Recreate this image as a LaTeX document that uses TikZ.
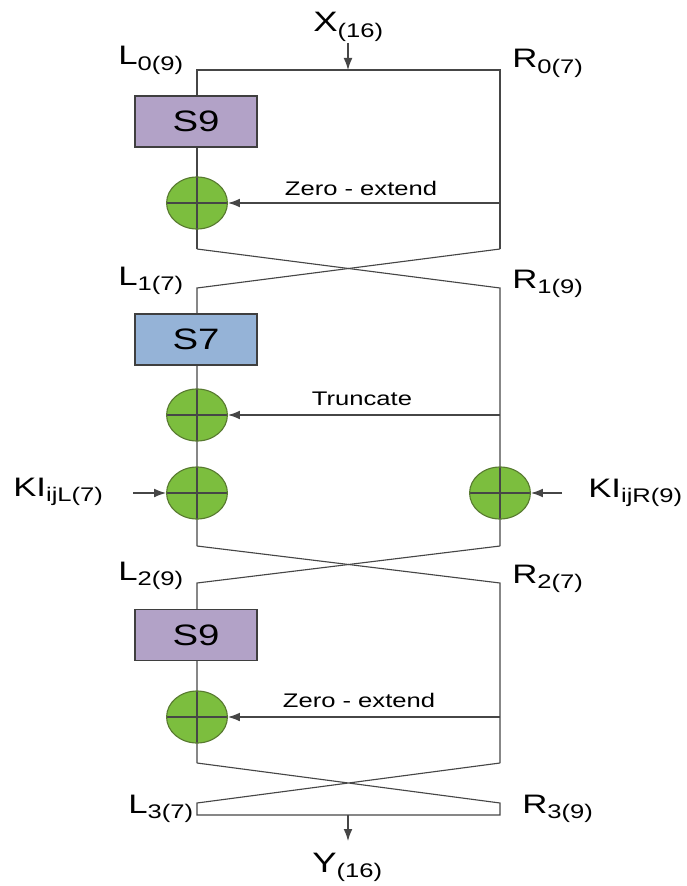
\documentclass[tikz,border=0pt]{standalone}
\usepackage{fontspec}
\setmainfont[FakeStretch=1.3]{Liberation Sans}
\usetikzlibrary{arrows.meta,shapes.geometric}

\definecolor{sboxpurple}{RGB}{178,162,199}
\definecolor{sboxblue}{RGB}{149,179,215}
\definecolor{xorgreen}{RGB}{124,190,62}
\definecolor{xoredge}{RGB}{88,122,48}
\definecolor{wire}{RGB}{70,70,70}

% big label with a lowered index
\newcommand{\sublab}[2]{#1\raisebox{-3.8pt}{\fontsize{14}{14}\selectfont #2}}

\begin{document}
\begin{tikzpicture}[
  x=0.025cm, y=-0.025cm,
  line/.style={draw=wire, line width=0.8pt},
  arr/.style={line, -{Latex[length=3mm,width=2.2mm]}},
  sbox/.style={rectangle, draw=wire!90!black, line width=1pt, minimum width=3.05cm,
    minimum height=1.28cm, font=\fontsize{21}{23}\selectfont},
  xor/.style={ellipse, draw=xoredge, fill=xorgreen, line width=0.8pt,
    minimum width=1.52cm, minimum height=1.3cm, inner sep=0pt,
    path picture={
      \draw[line] (path picture bounding box.north) -- (path picture bounding box.south);
      \draw[line] (path picture bounding box.west) -- (path picture bounding box.east);}},
  bit/.style={anchor=base west, inner sep=0pt, font=\fontsize{19}{21}\selectfont},
  io/.style={bit, font=\fontsize{20}{22}\selectfont},
  op/.style={anchor=base, inner sep=0pt, font=\fontsize{14}{16}\selectfont}
]
\useasboundingbox (0,0) rectangle (686,886);

% wire corners of the three rounds
\coordinate (L0) at (197,70);   \coordinate (R0) at (500,70);
\coordinate (L0b) at (197,249); \coordinate (R0b) at (500,249);
\coordinate (L1) at (197,288);  \coordinate (R1) at (500,288);
\coordinate (L1b) at (197,546); \coordinate (R1b) at (500,546);
\coordinate (L2) at (197,583);  \coordinate (R2) at (500,583);
\coordinate (L2b) at (197,763); \coordinate (R2b) at (500,763);
\coordinate (L3) at (197,803);  \coordinate (R3) at (500,803);
\coordinate (L3o) at (197,815); \coordinate (R3o) at (500,815);
\coordinate (xin) at (348,43);  \coordinate (xjoin) at (348,70);
\coordinate (yjoin) at (348,815); \coordinate (yout) at (348,841);
\coordinate (kil) at (133,493); \coordinate (kir) at (562,493);

% wires
\draw[line] (L0b) -- (L0) -- (R0) -- (R0b);
\draw[line] (L0b) -- (R1) -- (R1b);
\draw[line] (R0b) -- (L1) -- (L1b);
\draw[line] (L1b) -- (R2) -- (R2b);
\draw[line] (R1b) -- (L2) -- (L2b);
\draw[line] (L2b) -- (R3) -- (R3o) -- (L3o) -- (L3) -- (R2b);
\draw[arr] (xin) -- (xjoin);
\draw[arr] (yjoin) -- (yout);

% s-boxes
\node[sbox, fill=sboxpurple] (s1) at (196,121.5) {S9};
\node[sbox, fill=sboxblue] (s2) at (196,339.5) {S7};
\node[sbox, fill=sboxpurple] (s3) at (196,635) {S9};

% xor gates
\node[xor] (x1) at (197,203) {};
\node[xor] (x2) at (197,415) {};
\node[xor] (x3) at (197,493) {};
\node[xor] (x4) at (500,493) {};
\node[xor] (x5) at (197,717) {};

\draw[arr] (x1 -| R0) -- (x1.east);
\draw[arr] (x2 -| R1) -- (x2.east);
\draw[arr] (x5 -| R2) -- (x5.east);
\draw[arr] (kil) -- (x3.west);
\draw[arr] (kir) -- (x4.east);

\node[op] (z1) at (361,195) {Zero - extend};
\node[op] (tr) at (362,405) {Truncate};
\node[op] (z2) at (359,707) {Zero - extend};

% half names
\node[io] (nx) at (313,32) {\sublab{X}{(16)}};
\node[bit] (nl0) at (118,65) {\sublab{L}{0(9)}};
\node[bit] (nr0) at (512,68) {\sublab{R}{0(7)}};
\node[bit] (nl1) at (118,285) {\sublab{L}{1(7)}};
\node[bit] (nr1) at (512,288) {\sublab{R}{1(9)}};
\node[bit] (kl) at (13,496) {\sublab{KI}{ijL(7)}};
\node[bit] (kr) at (588,497) {\sublab{KI}{ijR(9)}};
\node[bit] (nl2) at (118,580) {\sublab{L}{2(9)}};
\node[bit] (nr2) at (512,583) {\sublab{R}{2(7)}};
\node[bit] (nl3) at (128,813) {\sublab{L}{3(7)}};
\node[bit] (nr3) at (522,813) {\sublab{R}{3(9)}};
\node[io] (ny) at (312,872) {\sublab{Y}{(16)}};
\end{tikzpicture}
\end{document}
